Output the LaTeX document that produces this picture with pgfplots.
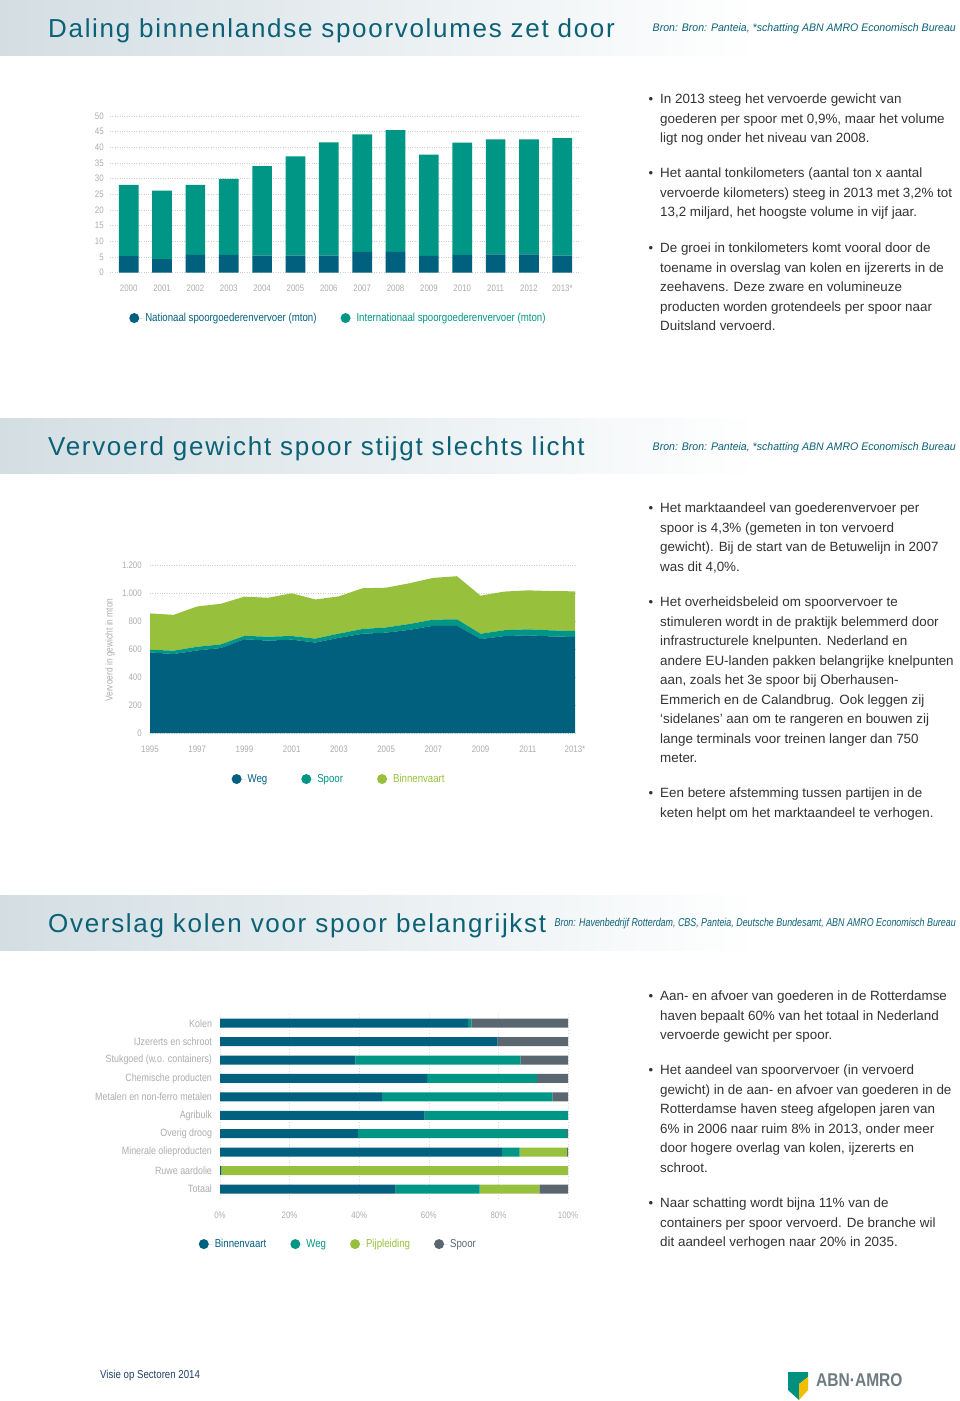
\documentclass[border=0pt]{standalone}
\usepackage{pgfplots}
\pgfplotsset{compat=1.18}
\usepackage{fontspec}
\setmainfont{Liberation Sans}
\newfontfamily\condfont[FakeStretch=0.84]{Liberation Sans}
\newfontfamily\titlefont[LetterSpace=6.5]{Liberation Sans}
\newfontfamily\srcfont[FakeStretch=0.96]{Liberation Sans}
\newfontfamily\srcfontnarrow[FakeStretch=0.78]{Liberation Sans}
\definecolor{dblue}{HTML}{00607E}
\definecolor{teal2}{HTML}{009685}
\definecolor{lgreen}{HTML}{97C13C}
\definecolor{sgray}{HTML}{5A6670}
\definecolor{ticktext}{HTML}{ADADAD}
\definecolor{titlecol}{HTML}{0B6176}
\definecolor{bodytext}{HTML}{333333}
\definecolor{bandleft}{HTML}{D3DEE3}
\definecolor{gridcol}{HTML}{CFCFCF}
\definecolor{logoteal}{HTML}{00907F}
\definecolor{logoyellow}{HTML}{F2BE00}
\definecolor{logogray}{HTML}{6E7B81}
\definecolor{footcol}{HTML}{23406A}

\newcommand{\bodyline}[2]{\node[anchor=base west, inner sep=0pt, font=\fontsize{13.4}{15}\selectfont, text=bodytext] at (660pt,-#1pt) {#2};}
\newcommand{\bulletline}[2]{\node[anchor=base west, inner sep=0pt, font=\fontsize{13}{15}\selectfont, text=bodytext] at (648.5pt,-#1pt) {•};\bodyline{#1}{#2}}

\pgfplotsset{
  basestyle/.style={
    scale only axis,
    axis line style={draw=none},
    major tick length=0pt,
    tick label style={font=\condfont\fontsize{9.4}{10}\selectfont, text=ticktext},
    /pgf/number format/assume math mode=true,
    grid style={gridcol, dotted, line width=0.7pt},
    legend style={draw=none, fill=none, font=\condfont\fontsize{11.5}{13}\selectfont, anchor=center},
  },
  circlelegend/.style={legend image code/.code={\fill[##1] (0pt,0pt) circle (5pt); \path (0pt,0pt) -- (9pt,0pt);}},
}

\begin{document}
\begin{tikzpicture}
\fill[white] (0pt,0pt) rectangle (960pt,-1401pt);
\useasboundingbox (0pt,0pt) rectangle (960pt,-1401pt);

% ---------- header bands ----------
\shade[left color=bandleft, right color=white] (0pt,0pt) rectangle (760pt,-55pt);
\shade[left color=bandleft, right color=white] (0pt,-418pt) rectangle (760pt,-473pt);
\shade[left color=bandleft, right color=white] (0pt,-895pt) rectangle (760pt,-950pt);

\node[anchor=base west, inner sep=0pt, text=titlecol, font=\titlefont\fontsize{26}{30}\selectfont] at (48pt,-37pt) {Daling binnenlandse spoorvolumes zet door};
\node[anchor=base west, inner sep=0pt, text=titlecol, font=\titlefont\fontsize{26}{30}\selectfont] at (48pt,-455pt) {Vervoerd gewicht spoor stijgt slechts licht};
\node[anchor=base west, inner sep=0pt, text=titlecol, font=\titlefont\fontsize{26}{30}\selectfont] at (48pt,-932pt) {Overslag kolen voor spoor belangrijkst};

\node[anchor=base east, inner sep=0pt, text=titlecol, font=\srcfont\itshape\fontsize{11}{12}\selectfont] at (956pt,-31.5pt) {Bron: Bron: Panteia, *schatting ABN AMRO Economisch Bureau};
\node[anchor=base east, inner sep=0pt, text=titlecol, font=\srcfont\itshape\fontsize{11}{12}\selectfont] at (956pt,-450.5pt) {Bron: Bron: Panteia, *schatting ABN AMRO Economisch Bureau};
\node[anchor=base east, inner sep=0pt, text=titlecol, font=\srcfontnarrow\itshape\fontsize{11.4}{12}\selectfont] at (956pt,-926.5pt) {Bron: Havenbedrijf Rotterdam, CBS, Panteia, Deutsche Bundesamt, ABN AMRO Economisch Bureau};

% ---------- chart 1 ----------
\begin{axis}[basestyle,
  at={(110pt,-272.5pt)}, anchor=south west, width=470pt, height=156.5pt,
  xmin=-0.56, xmax=13.53, ymin=0, ymax=50,
  ybar stacked, bar width=19.7pt,
  xtick={0,1,...,13},
  xticklabels={2000,2001,2002,2003,2004,2005,2006,2007,2008,2009,2010,2011,2012,2013*},
  ytick={0,5,...,50},
  ymajorgrids,
  yticklabel style={xshift=-2.7pt},
  xticklabel style={yshift=-9pt},
  legend columns=-1,
  legend style={at={(axis description cs:0.486,-0.291)}, /tikz/every even column/.append style={column sep=22pt}},
  circlelegend,
  axis on top=false,
]
\addplot[fill=dblue, draw=none] coordinates {(0,5.2) (1,4.3) (2,5.6) (3,5.6) (4,5.4) (5,5.4) (6,5.4) (7,6.6) (8,6.6) (9,5.3) (10,5.6) (11,5.8) (12,5.8) (13,5.4)};
\addlegendentry{\textcolor{dblue}{Nationaal spoorgoederenvervoer (mton)}}
\addplot[fill=teal2, draw=none] coordinates {(0,22.8) (1,21.9) (2,22.4) (3,24.3) (4,28.6) (5,31.7) (6,36.2) (7,37.5) (8,38.9) (9,32.4) (10,35.9) (11,36.7) (12,36.7) (13,37.5)};
\addlegendentry{\textcolor{teal2}{Internationaal spoorgoederenvervoer (mton)}}
\end{axis}

% ---------- chart 2 ----------
\begin{axis}[basestyle,
  at={(150pt,-733pt)}, anchor=south west, width=425pt, height=168pt,
  xmin=1995, xmax=2013, ymin=0, ymax=1200,
  stack plots=y,
  xtick={1995,1997,...,2013},
  xticklabels={1995,1997,1999,2001,2003,2005,2007,2009,2011,2013*},
  ytick={0,200,...,1200},
  yticklabels={0,200,400,600,800,1.000,1.200},
  ymajorgrids,
  yticklabel style={xshift=-4.7pt},
  xticklabel style={yshift=-9pt},
  ylabel={Vervoerd in gewicht in mton},
  ylabel style={at={(axis description cs:-0.094,0.494)}, anchor=center, font=\condfont\fontsize{10}{12}\selectfont, text=ticktext},
  legend columns=-1,
  legend style={at={(axis description cs:0.445,-0.274)}, /tikz/every even column/.append style={column sep=32pt}},
  circlelegend,
  axis on top=false,
]
\addplot[fill=dblue, draw=none] coordinates {(1995,576) (1996,564) (1997,590) (1998,607) (1999,670) (2000,660) (2001,667) (2002,646) (2003,680) (2004,709) (2005,717) (2006,737) (2007,766) (2008,766) (2009,671) (2010,692) (2011,698) (2012,690) (2013,686)} \closedcycle;
\addlegendentry{\textcolor{dblue}{Weg}}
\addplot[fill=teal2, draw=none] coordinates {(1995,19) (1996,24) (1997,26) (1998,26) (1999,24) (2000,28) (2001,26) (2002,28) (2003,30) (2004,34) (2005,37) (2006,42) (2007,44) (2008,46) (2009,38) (2010,42) (2011,43) (2012,43) (2013,43)} \closedcycle;
\addlegendentry{\textcolor{teal2}{Spoor}}
\addplot[fill=lgreen, draw=none] coordinates {(1995,259) (1996,256) (1997,288) (1998,290) (1999,280) (2000,278) (2001,305) (2002,280) (2003,266) (2004,291) (2005,284) (2006,291) (2007,298) (2008,308) (2009,272) (2010,276) (2011,278) (2012,281) (2013,283)} \closedcycle;
\addlegendentry{\textcolor{lgreen}{Binnenvaart}}
\end{axis}

% ---------- chart 3 ----------
\begin{axis}[basestyle,
  at={(220pt,-1198.2pt)}, anchor=south west, width=348pt, height=184.2pt,
  xmin=0, xmax=100, ymin=-0.5, ymax=9.5,
  xbar stacked, bar width=9pt,
  ytick={0,1,...,9},
  yticklabels={Totaal, Ruwe aardolie, Minerale olieproducten, Overig droog, Agribulk, Metalen en non-ferro metalen, Chemische producten, Stukgoed (w.o. containers), IJzererts en schroot, Kolen},
  yticklabel style={xshift=-4.5pt, font=\condfont\fontsize{10.6}{12}\selectfont},
  xtick={0,20,...,100},
  xticklabels={0\%,20\%,40\%,60\%,80\%,100\%},
  xticklabel style={yshift=-10pt},
  xmajorgrids,
  grid style={gridcol!70, dotted, line width=0.6pt},
  legend columns=-1,
  legend style={at={(axis description cs:0.34,-0.249)}, /tikz/every even column/.append style={column sep=22pt}},
  circlelegend,
  axis on top=false,
]
\addplot[fill=dblue, draw=none] coordinates {(50.5,0) (0.3,1) (81.0,2) (39.6,3) (58.8,4) (46.5,5) (59.5,6) (38.9,7) (79.8,8) (71.3,9)};
\addlegendentry{\textcolor{dblue}{Binnenvaart}}
\addplot[fill=teal2, draw=none] coordinates {(24.1,0) (0,1) (5.1,2) (60.1,3) (41.2,4) (49.0,5) (31.6,6) (47.4,7) (0,8) (0.9,9)};
\addlegendentry{\textcolor{teal2}{Weg}}
\addplot[fill=lgreen, draw=none] coordinates {(17.2,0) (99.7,1) (13.6,2) (0,3) (0,4) (0,5) (0,6) (0,7) (0,8) (0,9)};
\addlegendentry{\textcolor{lgreen}{Pijpleiding}}
\addplot[fill=sgray, draw=none] coordinates {(8.2,0) (0,1) (0.3,2) (0.3,3) (0,4) (4.5,5) (8.9,6) (13.7,7) (20.2,8) (27.8,9)};
\addlegendentry{\textcolor{sgray}{Spoor}}
\end{axis}

% ---------- body text ----------
\bulletline{103.5}{In 2013 steeg het vervoerde gewicht van}
\bodyline{123}{goederen per spoor met 0,9\%, maar het volume}
\bodyline{142.5}{ligt nog onder het niveau van 2008.}
\bulletline{177.5}{Het aantal tonkilometers (aantal ton x aantal}
\bodyline{197}{vervoerde kilometers) steeg in 2013 met 3,2\% tot}
\bodyline{216.5}{13,2 miljard, het hoogste volume in vijf jaar.}
\bulletline{252.5}{De groei in tonkilometers komt vooral door de}
\bodyline{272}{toename in overslag van kolen en ijzererts in de}
\bodyline{291.5}{zeehavens. Deze zware en volumineuze}
\bodyline{311}{producten worden grotendeels per spoor naar}
\bodyline{330.5}{Duitsland vervoerd.}

\bulletline{512.5}{Het marktaandeel van goederenvervoer per}
\bodyline{532}{spoor is 4,3\% (gemeten in ton vervoerd}
\bodyline{551.5}{gewicht). Bij de start van de Betuwelijn in 2007}
\bodyline{571}{was dit 4,0\%.}
\bulletline{606.5}{Het overheidsbeleid om spoorvervoer te}
\bodyline{626}{stimuleren wordt in de praktijk belemmerd door}
\bodyline{645.5}{infrastructurele knelpunten. Nederland en}
\bodyline{665}{andere EU-landen pakken belangrijke knelpunten}
\bodyline{684.5}{aan, zoals het 3e spoor bij Oberhausen-}
\bodyline{704}{Emmerich en de Calandbrug. Ook leggen zij}
\bodyline{723.5}{‘sidelanes’ aan om te rangeren en bouwen zij}
\bodyline{743}{lange terminals voor treinen langer dan 750}
\bodyline{762.5}{meter.}
\bulletline{797.5}{Een betere afstemming tussen partijen in de}
\bodyline{817}{keten helpt om het marktaandeel te verhogen.}

\bulletline{1000.5}{Aan- en afvoer van goederen in de Rotterdamse}
\bodyline{1020}{haven bepaalt 60\% van het totaal in Nederland}
\bodyline{1039.5}{vervoerde gewicht per spoor.}
\bulletline{1074.5}{Het aandeel van spoorvervoer (in vervoerd}
\bodyline{1094}{gewicht) in de aan- en afvoer van goederen in de}
\bodyline{1113.5}{Rotterdamse haven steeg afgelopen jaren van}
\bodyline{1133}{6\% in 2006 naar ruim 8\% in 2013, onder meer}
\bodyline{1152.5}{door hogere overlag van kolen, ijzererts en}
\bodyline{1172}{schroot.}
\bulletline{1207.5}{Naar schatting wordt bijna 11\% van de}
\bodyline{1227}{containers per spoor vervoerd. De branche wil}
\bodyline{1246.5}{dit aandeel verhogen naar 20\% in 2035.}

% ---------- footer ----------
\node[anchor=west, inner sep=0pt, text=footcol, font=\condfont\fontsize{11.5}{13}\selectfont] at (100pt,-1376pt) {Visie op Sectoren 2014};
\fill[logoteal] (788pt,-1372pt) -- (808pt,-1372pt) -- (808pt,-1377pt) -- (799pt,-1384pt) -- (799pt,-1400pt) -- (788pt,-1390pt) -- cycle;
\fill[logoyellow] (799pt,-1384pt) -- (808pt,-1377pt) -- (808pt,-1390pt) -- (799pt,-1400pt) -- cycle;
\node[anchor=west, inner sep=0pt, text=logogray, font=\condfont\bfseries\fontsize{18.5}{20}\selectfont] at (816pt,-1380pt) {ABN·AMRO};
\end{tikzpicture}
\end{document}
